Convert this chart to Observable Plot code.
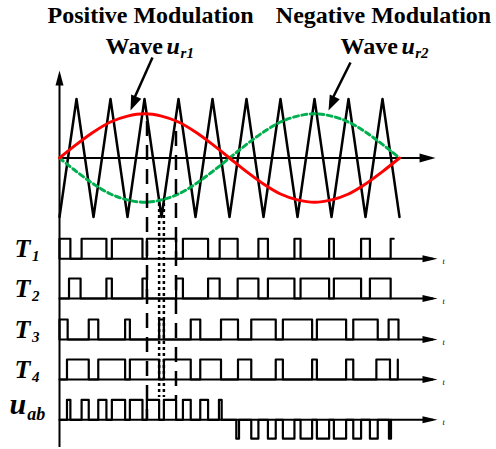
<!DOCTYPE html>
<html><head><meta charset="utf-8">
<script src="https://cdn.jsdelivr.net/npm/d3@7"></script>
<script src="https://cdn.jsdelivr.net/npm/@observablehq/plot@0.6"></script>
<style>html,body{margin:0;padding:0;background:#fff;} #chart{width:496px;height:449px;}</style>
</head><body><div id="chart"></div>
<script>
// ---- data (time t in carrier periods, amplitude v normalised to carrier peak) ----
const carrierT = [0,0.5,1,1.5,2,2.5,3,3.5,4,4.5,5,5.5,6,6.5,7,7.5,8,8.5,9,9.5,10];
const carrierV = [-1,1,-1,1,-1,1,-1,1,-1,1,-1,1,-1,1,-1,1,-1,1,-1,1,-1];
const modT = [0,0.5,1,1.5,2,2.5,3,3.5,4,4.5,5,5.5,6,6.5,7,7.5,8,8.5,9,9.5,10];
const ur1 = [0,0.23,0.44,0.61,0.71,0.75,0.71,0.61,0.44,0.23,0,-0.23,-0.44,-0.61,-0.71,-0.75,-0.71,-0.61,-0.44,-0.23,0];
const ur2 = [0,-0.23,-0.44,-0.61,-0.71,-0.75,-0.71,-0.61,-0.44,-0.23,0,0.23,0.44,0.61,0.71,0.75,0.71,0.61,0.44,0.23,0];

// switching pulses: [rise, fall, noFall]
const T1 = [[0,0.32],[0.65,1.38],[1.54,2.44],[2.57,3.43],[3.63,4.37],[4.71,5.24],[5.85,6.13],[6.91,7.09],[7.93,8.07],[8.87,9.13],[9.74,9.83,true]];
const T2 = [[0.28,0.62],[1.38,1.54],[2.44,2.57],[3.43,3.63],[4.37,4.71],[5.24,5.85],[6.13,6.91],[7.09,7.93],[8.07,8.87],[9.13,9.74]];
const T3 = [[0,0.24],[0.86,1.14],[1.93,2.07],[2.93,3.07],[3.86,4.14],[4.75,5.25],[5.64,6.36],[6.57,7.43],[7.57,8.43],[8.64,9.36],[9.68,9.97]];
const T4 = [[0.22,0.86],[1.14,1.93],[2.07,2.93],[3.07,3.86],[4.14,4.75],[5.25,5.64],[6.36,6.57],[7.43,7.57],[8.43,8.64],[9.32,9.72],[9.95,9.95,true]];
const uabPos = [[0.22,0.32],[0.65,0.86],[1.14,1.38],[1.54,1.93],[2.07,2.44],[2.57,2.93],[3.07,3.43],[3.63,3.86],[4.14,4.37],[4.69,4.77]];
const uabNeg = [[5.2,5.28],[5.64,5.85],[6.13,6.36],[6.57,6.91],[7.09,7.43],[7.57,7.93],[8.07,8.43],[8.64,8.87],[9.13,9.36],[9.69,9.75]];

const rowNames = ["T","T","T","T","u"];
const rowSubs = ["1","2","3","4","ab"];

// annotation guide lines
const dashX = [2.574, 3.426];
const dotX = [2.93, 3.07];

// ---- layout (not data) ----
const rowBase = [-1.708, -2.381, -3.076, -3.754, -4.437];
const pulseH = 0.339;
const negH = 0.32;

function stepPath(pulses, base, row) {
  const pts = [{t: 0, v: base, row}];
  for (const [a, b, open, h = pulseH] of pulses) {
    pts.push({t: a, v: base, row}, {t: a, v: base + h, row}, {t: b, v: base + h, row});
    if (!open) pts.push({t: b, v: base, row});
  }
  return pts;
}
const rows = [T1, T2, T3, T4].flatMap((p, i) => stepPath(p, rowBase[i], i));
const uabPulses = [...uabPos.map(([a,b]) => [a,b,false,pulseH]), ...uabNeg.map(([a,b]) => [a,b,false,-negH])].sort((p,q) => p[0]-q[0]);
const uabPts = stepPath(uabPulses, rowBase[4], 4);

const carrier = carrierT.map((t, i) => ({t, v: carrierV[i]}));
const m1 = modT.map((t, i) => ({t, v: ur1[i]}));
const m2 = modT.map((t, i) => ({t, v: ur2[i]}));

const head = (dx, dy, len, hw) => {
  const n = Math.hypot(dx, dy), ux = dx / n, uy = dy / n;
  return {draw(ctx) {
    ctx.moveTo(0, 0);
    ctx.lineTo(-ux * len - uy * hw, -uy * len + ux * hw);
    ctx.lineTo(-ux * len + uy * hw, -uy * len - ux * hw);
    ctx.closePath();
  }};
};

const serif = "Liberation Serif, Times New Roman, serif";
const rowAxisEnd = 11.118;

const chart = Plot.plot({
  width: 496, height: 449,
  marginLeft: 59, marginRight: 97, marginTop: 98.5, marginBottom: 232.5,
  x: {domain: [0, 10], axis: null},
  y: {domain: [-1, 1], axis: null},
  style: {background: "white", overflow: "visible"},
  marks: [
    // axes
    Plot.ruleX([0], {y1: -4.907, y2: 1.40, stroke: "black", strokeWidth: 2}),
    Plot.ruleY([0], {x1: 0, x2: 10.95, stroke: "black", strokeWidth: 2}),
    Plot.ruleY(rowBase, {x1: 0, x2: 11.0, stroke: "black", strokeWidth: 2}),
    Plot.dot([{t: 0, v: 1.483}], {x: "t", y: "v", symbol: head(0, -1, 15, 4), fill: "black", stroke: "none"}),
    Plot.dot([{t: 11.06, v: 0}], {x: "t", y: "v", symbol: head(1, 0, 16, 4.5), fill: "black", stroke: "none"}),
    Plot.dot(rowBase, {x: () => rowAxisEnd, y: d => d, symbol: head(1, 0, 15, 3.5), fill: "black", stroke: "none"}),
    // carrier and modulation waves
    Plot.line(carrier, {x: "t", y: "v", stroke: "black", strokeWidth: 2.5}),
    Plot.line(m2, {x: "t", y: "v", stroke: "#00b050", strokeWidth: 3, strokeDasharray: "5,3.5", curve: "catmull-rom"}),
    Plot.line(m1, {x: "t", y: "v", stroke: "#ff0000", strokeWidth: 3, curve: "catmull-rom"}),
    // guide lines
    Plot.ruleX(dashX, {y1: [0.62, 0.45], y2: [-4.432, -4.093], stroke: "black", strokeWidth: 2.5, strokeDasharray: "15,9"}),
    Plot.ruleX(dotX, {y1: -0.77, y2: -4.06, stroke: "black", strokeWidth: 2.5, strokeDasharray: "3,3"}),
    // pulse trains
    Plot.line(rows, {x: "t", y: "v", z: "row", stroke: "black", strokeWidth: 2.2, curve: "linear"}),
    Plot.line(uabPts, {x: "t", y: "v", stroke: "black", strokeWidth: 2.2}),
    // annotation arrows
    Plot.link([{x1: 2.735, y1: 1.703, x2: 2.15, y2: 0.95}, {x1: 8.559, y1: 1.619, x2: 7.97, y2: 0.94}], {x1: "x1", y1: "y1", x2: "x2", y2: "y2", stroke: "black", strokeWidth: 2.5}),
    Plot.dot([{t: 2.088, v: 0.805}], {x: "t", y: "v", symbol: head(-22, 53, 15, 5.5), fill: "black", stroke: "none"}),
    Plot.dot([{t: 7.912, v: 0.805}], {x: "t", y: "v", symbol: head(-22, 48, 15, 5.5), fill: "black", stroke: "none"}),
    // titles
    Plot.text([{t: 2.676, s: "Positive Modulation"}, {t: 9.53, s: "Negative Modulation"}], {x: "t", y: () => 2.28, text: "s", lineAnchor: "bottom", fontFamily: serif, fontWeight: "bold", fontSize: 24, fill: "black"}),
    Plot.text([1.353, 8.265], {x: d => d, y: () => 1.771, text: () => "Wave", textAnchor: "start", lineAnchor: "bottom", fontFamily: serif, fontWeight: "bold", fontSize: 24, fill: "black"}),
    Plot.text([3.15, 10.06], {x: d => d, y: () => 1.771, text: () => "u", textAnchor: "start", lineAnchor: "bottom", fontFamily: serif, fontWeight: "bold", fontStyle: "italic", fontSize: 24, fill: "black"}),
    Plot.text([{t: 3.56, s: "r1"}, {t: 10.46, s: "r2"}], {x: "t", y: () => 1.703, text: "s", textAnchor: "start", lineAnchor: "bottom", fontFamily: serif, fontWeight: "bold", fontStyle: "italic", fontSize: 15, fill: "black"}),
    // row labels
    Plot.text([0,1,2,3], {x: () => -1.32, y: i => rowBase[i] + 0.03, text: i => rowNames[i], textAnchor: "start", lineAnchor: "bottom", fontFamily: serif, fontWeight: "bold", fontStyle: "italic", fontSize: 26, fill: "black"}),
    Plot.text([0,1,2,3], {x: () => -0.81, y: i => rowBase[i] - 0.04, text: i => rowSubs[i], textAnchor: "start", lineAnchor: "bottom", fontFamily: serif, fontWeight: "bold", fontStyle: "italic", fontSize: 15, fill: "black"}),
    Plot.text([4], {x: () => -1.47, y: i => rowBase[i] + 0.09, text: i => rowNames[i], textAnchor: "start", lineAnchor: "bottom", fontFamily: serif, fontWeight: "bold", fontStyle: "italic", fontSize: 30, fill: "black"}),
    Plot.text([4], {x: () => -0.95, y: i => rowBase[i] - 0.01, text: i => rowSubs[i], textAnchor: "start", lineAnchor: "bottom", fontFamily: serif, fontWeight: "bold", fontStyle: "italic", fontSize: 18, fill: "black"}),
    Plot.text(rowBase, {x: () => 11.3, y: d => d - 0.05, text: () => "t", fontFamily: serif, fontStyle: "italic", fontSize: 8, fill: "black"})
  ]
});
document.getElementById("chart").appendChild(chart);
</script>
</body></html>
